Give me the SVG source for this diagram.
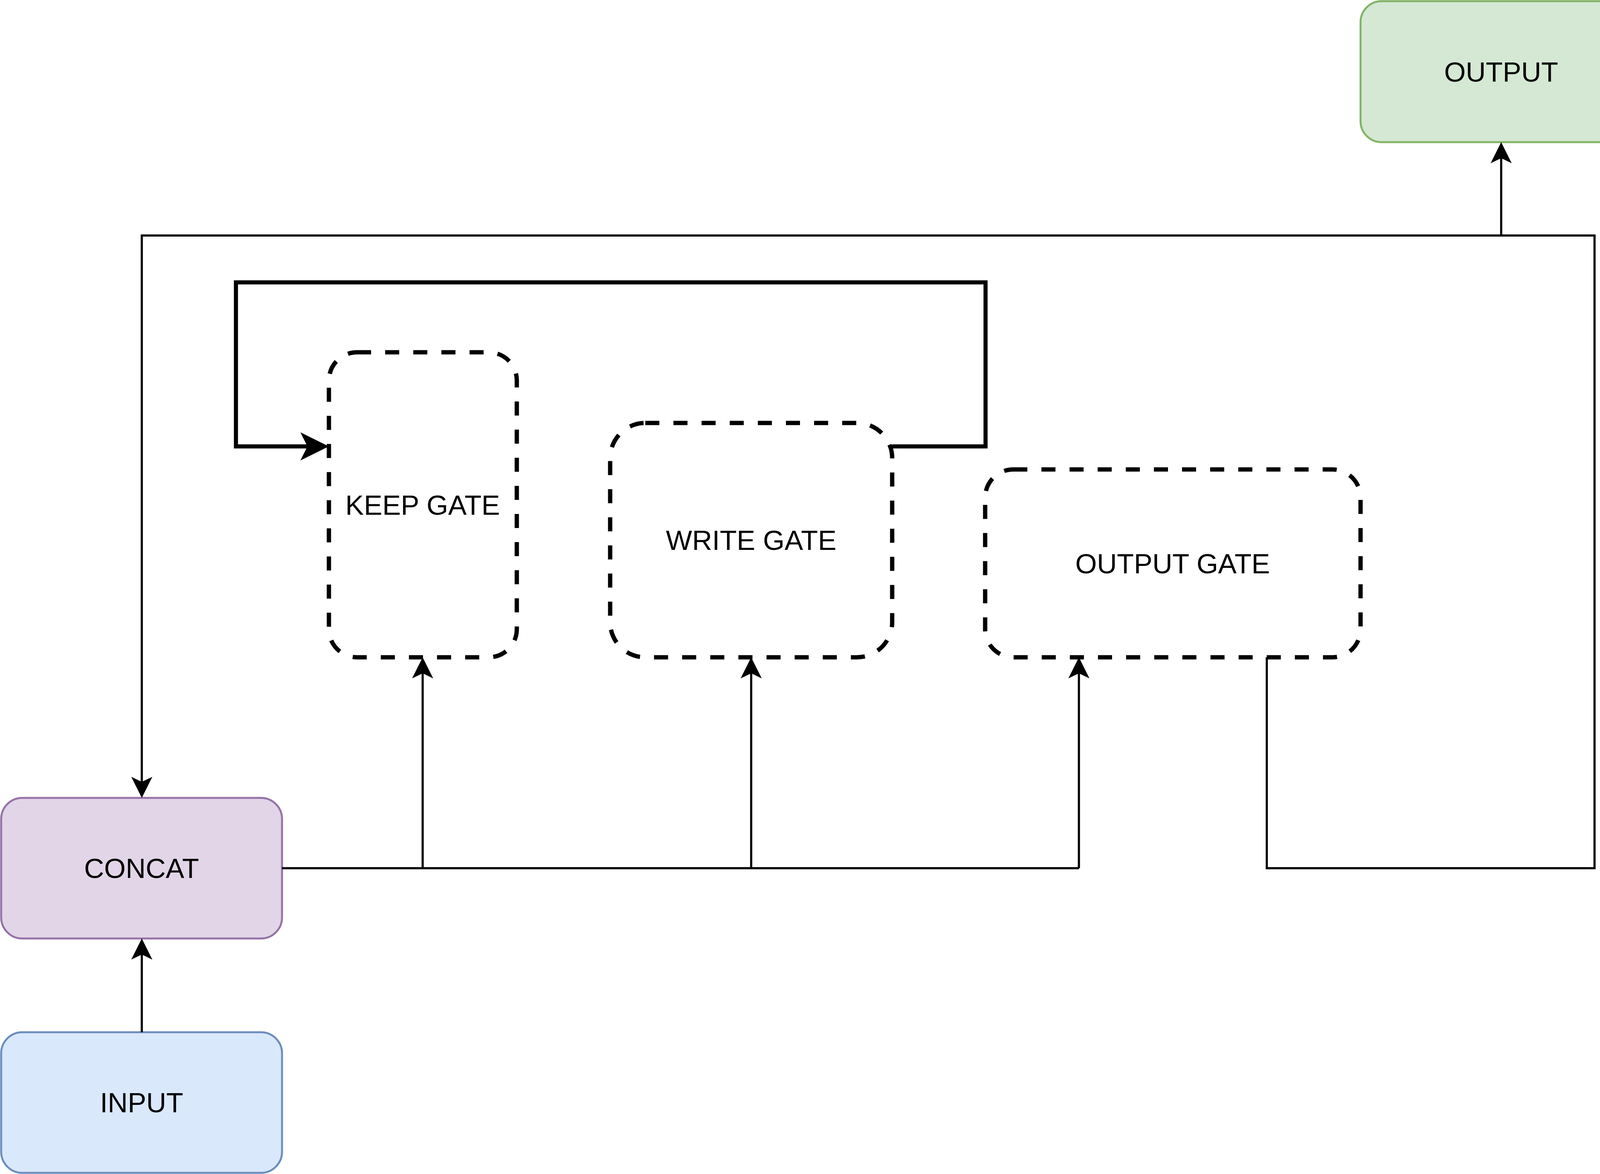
<svg xmlns="http://www.w3.org/2000/svg" width="4206" height="3006" viewBox="0 0 4206 3006">
<style>
.lbl{font-family:"Liberation Sans",Arial,Helvetica,sans-serif;font-size:71px;fill:#000;text-anchor:middle}
.gate{fill:#ffffff;stroke:#000;stroke-width:11;stroke-dasharray:36 36}
.thin{fill:none;stroke:#000;stroke-width:5.5;stroke-linejoin:miter}
.thick{fill:none;stroke:#000;stroke-width:10.5;stroke-linejoin:miter}
</style>
<defs>
<marker id="arr" markerUnits="userSpaceOnUse" viewBox="-20 -30 70 60" markerWidth="70" markerHeight="60" refX="0" refY="0" orient="auto" overflow="visible">
<path d="M41,0 L-13,-27 L0,0 L-13,27 Z" fill="#000"/>
</marker>
<marker id="arrBig" markerUnits="userSpaceOnUse" viewBox="-25 -40 90 80" markerWidth="90" markerHeight="80" refX="0" refY="0" orient="auto" overflow="visible">
<path d="M55,0 L-18,-36 L0,0 L-18,36 Z" fill="#000"/>
</marker>
</defs>
<rect width="4206" height="3006" fill="#ffffff"/>
<g id="output">
<rect x="3483" y="3" width="720" height="361" rx="54" ry="54" fill="#d5e8d4" stroke="#82b366" stroke-width="5"/>
<text class="lbl" x="3843" y="209">OUTPUT</text>
</g>
<g id="concat">
<rect x="3" y="2043" width="719" height="360" rx="54" ry="54" fill="#e1d5e7" stroke="#9673a6" stroke-width="5"/>
<text class="lbl" x="362.5" y="2248">CONCAT</text>
</g>
<g id="input">
<rect x="3" y="2643" width="719" height="360" rx="54" ry="54" fill="#dae8fc" stroke="#6c8ebf" stroke-width="5"/>
<text class="lbl" x="362.5" y="2848">INPUT</text>
</g>
<g id="keep-gate">
<rect class="gate" x="842" y="902" width="481" height="781" rx="72" ry="72"/>
<text class="lbl" x="1082" y="1318">KEEP GATE</text>
</g>
<g id="write-gate">
<rect class="gate" x="1562" y="1083" width="722" height="600" rx="90" ry="90"/>
<text class="lbl" x="1923" y="1408">WRITE GATE</text>
</g>
<g id="output-gate">
<rect class="gate" x="2522" y="1202" width="961" height="481" rx="72" ry="72"/>
<text class="lbl" x="3002" y="1468">OUTPUT GATE</text>
</g>
<g id="connectors">
<path class="thin" d="M363,2643 V2444" marker-end="url(#arr)"/>
<path class="thin" d="M3243,1683 V2223 H4082 V603 H363 V2002" marker-end="url(#arr)"/>
<path class="thin" d="M3843,603 V405" marker-end="url(#arr)"/>
<path class="thin" d="M722,2223 H2762"/>
<path class="thin" d="M1082,2223 V1724" marker-end="url(#arr)"/>
<path class="thin" d="M1923,2223 V1724" marker-end="url(#arr)"/>
<path class="thin" d="M2762,2223 V1724" marker-end="url(#arr)"/>
<path class="thick" d="M2284,1143 H2523 V723 H604 V1143 H787" marker-end="url(#arrBig)"/>
</g>
</svg>
